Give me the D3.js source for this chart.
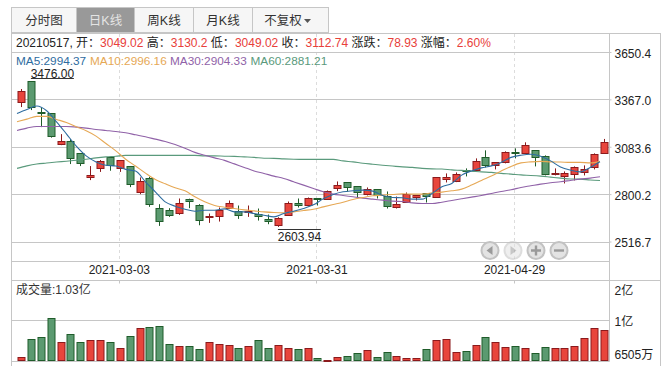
<!DOCTYPE html>
<html>
<head>
<meta charset="utf-8">
<script src="https://d3js.org/d3.v7.min.js"></script>
<style>
  html, body { margin: 0; padding: 0; background: #fff; }
  svg { display: block; font-family: "Liberation Sans", "Noto Sans CJK SC", sans-serif; }
</style>
</head>
<body>
<div id="chart"></div>
<script>
// K线数据
const opens = [3351,3476,3291,3285,3099,3115,3045,2908,2957,3020,2957,2966,2810,2894,2720,2708,2688,2770,2738,2665,2670,2718,2700,2690,2684,2654,2616,2678,2750,2732,2774,2768,2834,2870,2846,2798,2828,2788,2726,2756,2783,2804,2780,2888,2876,2944,2942,3020,2972,2990,3052,3044,3062,3026,2920,2906,2918,2930,2960,3049.02];
const highs = [3429,3476,3318,3285,3159,3129,3045,2968,3004,3022,3004,2968,2900,2904,2740,2716,2774,2773,2740,2684,2720,2762,2732,2732,2714,2678,2662,2756,2774,2780,2776,2822,2876,2872,2848,2840,2830,2816,2786,2810,2794,2806,2902,2924,2930,2954,3014,3062,2992,3056,3074,3110,3064,3032,2954,2936,2966,2972,3044,3130.2];
const lows = [3321,3303,3201,3138,3093,2980,2968,2884,2933,2940,2933,2842,2800,2724,2610,2664,2676,2716,2614,2628,2636,2712,2652,2664,2642,2620,2603.94,2677,2720,2731,2732,2767,2818,2816,2774,2792,2774,2714,2714,2755,2762,2750,2779,2870,2872,2906,2941,2960,2948,2984,3014,3043,2966,2912,2912,2864,2882,2912,2948,3049.02];
const closes = [3417,3321,3285,3147,3117,3011,2986,2917,2996,2972,3002,2856,2876,2736,2642,2676,2750,2761,2648,2671,2706,2750,2678,2698,2670,2640,2660,2750,2736,2774,2768,2816,2852,2840,2810,2828,2792,2726,2744,2803,2792,2786,2900,2900,2918,2938,2996,2972,2990,3050,3047,3092,3020,2918,2926,2924,2960,2948,3038,3112.74];
// 成交量（亿）
const volumes = [0.70,0.92,0.945,1.18,0.883,0.98,0.883,0.908,0.908,0.883,0.81,0.957,1.055,1.067,1.08,0.859,0.834,0.834,0.798,0.883,0.859,0.847,0.81,0.834,0.908,0.81,0.847,0.81,0.798,0.81,0.687,0.6546,0.70,0.712,0.749,0.785,0.70,0.761,0.712,0.687,0.687,0.798,0.908,0.92,0.761,0.773,0.847,0.945,0.883,0.822,0.834,0.81,0.749,0.822,0.81,0.81,0.834,0.933,1.055,1.03];
// 均线
const ma5 = [3283,3307,3327,3299,3233,3161,3087,3029,2993,2973,2968,2948,2938,2874,2814,2754,2728,2710,2698,2704,2704,2712,2694,2694,2684,2674,2664,2684,2698,2714,2736,2772,2798,2814,2820,2824,2818,2792,2780,2778,2770,2770,2804,2844,2864,2914,2939,2957,2969,2990,3020,3033,3039,3027,2999,2963,2944,2933,2960,2994.37];
const ma10 = [3233,3249,3265,3265,3247,3229,3203,3179,3147,3103,3059,3009,2968,2926,2888,2862,2838,2820,2784,2754,2732,2722,2714,2706,2700,2694,2690,2688,2694,2702,2710,2724,2738,2752,2768,2780,2790,2794,2798,2802,2800,2800,2808,2812,2820,2830,2854,2882,2908,2938,2966,2987,2993,2996,2993,2992,2990,2990,2987,2996.16];
const ma30 = [3181,3195,3205,3205,3205,3205,3201,3195,3187,3181,3175,3167,3155,3143,3129,3115,3097,3075,3050,3033,3017,3002,2981,2960,2939,2924,2908,2894,2874,2854,2834,2814,2800,2792,2784,2776,2770,2764,2758,2756,2748,2744,2744,2752,2762,2772,2782,2792,2804,2816,2826,2840,2850,2860,2868,2874,2882,2890,2896,2904.33];
const ma60 = [2954,2969,2980,2986,2992,2997,3003,3009,3017,3023,3027,3032,3032,3032,3032,3032,3032,3032,3032,3029,3029,3027,3026,3023,3020,3015,3014,3011,3009,3008,3008,3008,3008,2999,2993,2985,2979,2973,2968,2963,2960,2954,2951,2950,2945,2942,2938,2933,2930,2924,2920,2915,2912,2908,2902,2896,2891,2890,2885,2881.21];

// 坐标轴刻度
const priceTicks = [3650.4, 3367.0, 3083.6, 2800.2, 2516.7];
const volTicks = [1.6536, 1.1521, 0.6505];
const volTickLabels = ['2亿', '1亿', '6505万'];
const dateTicks = [10, 30, 50];
const dateLabels = ['2021-03-03', '2021-03-31', '2021-04-29'];
const tabNames = ['分时图', '日K线', '周K线', '月K线', '不复权'];
const infoLabels = ['开：', '高：', '低：', '收：', '涨跌：', '涨幅：'];
const infoValues = ['3049.02', '3130.2', '3049.02', '3112.74', '78.93', '2.60%'];
const maNames = ['MA5:2994.37', 'MA10:2996.16', 'MA30:2904.33', 'MA60:2881.21'];

const width = 667;
const height = 373;
const plot = { left: 11.5, right: 609.5, outer: 660.5, top: 33, info: 52, bottom: 261.5, volTop: 280.5, volBottom: 361.5 };
const gridColor = '#c6c6c6';
const red = '#e8453c', redDark = '#8c1a1c';
const green = '#5b9a70', greenDark = '#1f5c2a';
const maColors = ['#2e6c9f', '#e6a855', '#9062a8', '#5a9a7c'];

const svg = d3.select('#chart').append('svg')
  .attr('width', width)
  .attr('height', height)
  .attr('font-size', 12);

const days = d3.range(opens.length);

// 比例尺
const x = d3.scalePoint().domain(days).range([21, 604]);
const y = d3.scaleLinear().domain([2516.7, 3650.4]).range([241.5, 52]);
const yVol = d3.scaleLinear().domain([0.6505, 1.6536]).range([plot.volBottom, 280.5]);
const snap = v => Math.round(v) + 0.5;

// 顶部标签
const tabEdges = [11.5, 76.5, 134.5, 193.5, 252.5, 328.5];
const tabs = svg.append('g').attr('class', 'tabs');
tabs.selectAll('rect')
  .data(tabNames)
  .join('rect')
  .attr('x', (d, i) => tabEdges[i])
  .attr('y', 7.5)
  .attr('width', (d, i) => tabEdges[i + 1] - tabEdges[i])
  .attr('height', 25)
  .attr('fill', (d, i) => i === 1 ? '#999' : '#f6f6f6')
  .attr('stroke', gridColor);
tabs.selectAll('text')
  .data(tabNames)
  .join('text')
  .attr('x', (d, i) => i === 4 ? 283 : (tabEdges[i] + tabEdges[i + 1]) / 2)
  .attr('y', 25)
  .attr('text-anchor', 'middle')
  .attr('font-size', 12.5)
  .attr('fill', (d, i) => i === 1 ? '#e4e4e4' : '#333')
  .text(d => d);
tabs.append('path').attr('d', 'M304,19 h7 l-3.5,4 z').attr('fill', '#555');

// 外框
const frame = svg.append('g').attr('stroke', gridColor).attr('fill', 'none');
frame.append('path').attr('d', `M${plot.left},33 V366`);
frame.append('path').attr('d', `M${plot.right},33 V${plot.volBottom}`);
frame.append('path').attr('d', `M${plot.outer},33 V366`);
frame.append('path').attr('d', `M${plot.left},33.5 H${plot.outer}`);
frame.append('path').attr('d', `M${plot.left},${plot.bottom} H${plot.right}`);
frame.append('path').attr('d', `M${plot.left},${plot.volTop} H${plot.outer}`);

// 日期竖线
svg.append('g').selectAll('line')
  .data(dateTicks)
  .join('line')
  .attr('x1', d => snap(x(d)) - 1)
  .attr('x2', d => snap(x(d)) - 1)
  .attr('y1', 34)
  .attr('y2', plot.bottom)
  .attr('stroke', '#dcdcdc')
  .attr('stroke-dasharray', '3,3');

// 价格横线
svg.append('g').selectAll('line')
  .data(priceTicks)
  .join('line')
  .attr('x1', plot.left)
  .attr('x2', plot.right)
  .attr('y1', d => snap(y(d)))
  .attr('y2', d => snap(y(d)))
  .attr('stroke', gridColor);

// 成交量横线
svg.append('g').selectAll('line')
  .data(volTicks)
  .join('line')
  .attr('x1', plot.left)
  .attr('x2', plot.right)
  .attr('y1', d => snap(yVol(d)) - 1)
  .attr('y2', d => snap(yVol(d)) - 1)
  .attr('stroke', gridColor);

// 右侧价格轴
const yAxis = d3.axisRight(y).tickValues(priceTicks).tickFormat(d3.format('.1f')).tickSize(2).tickPadding(3);
const yAxisDraw = svg.append('g')
  .attr('transform', `translate(${plot.right},0)`)
  .call(yAxis);
yAxisDraw.select('.domain').remove();
yAxisDraw.selectAll('line').attr('stroke', gridColor);
yAxisDraw.selectAll('text')
  .attr('font-size', 12)
  .attr('font-family', '"Liberation Sans", sans-serif')
  .attr('fill', '#222')
  .attr('dy', '0.45em');

// 右侧成交量轴
const volAxis = d3.axisRight(yVol).tickValues(volTicks).tickFormat((d, i) => volTickLabels[i]).tickSize(0).tickPadding(5);
const volLabelShift = [10, 1, -7];
const volAxisDraw = svg.append('g')
  .attr('transform', `translate(${plot.right},0)`)
  .call(volAxis);
volAxisDraw.select('.domain').remove();
volAxisDraw.selectAll('text')
  .attr('font-size', 12)
  .attr('font-family', '"Liberation Sans", "Noto Sans CJK SC", sans-serif')
  .attr('fill', '#222')
  .attr('dy', (d, i) => volLabelShift[i] + 4);

// 日期轴
const xAxis = d3.axisBottom(x).tickValues(dateTicks).tickFormat((d, i) => dateLabels[i]).tickSize(0).tickPadding(4);
const xAxisDraw = svg.append('g')
  .attr('transform', `translate(-1,${plot.bottom})`)
  .call(xAxis);
xAxisDraw.select('.domain').remove();
xAxisDraw.selectAll('text')
  .attr('font-size', 12)
  .attr('font-family', '"Liberation Sans", sans-serif')
  .attr('fill', '#222');
svg.append('g').selectAll('line')
  .data(dateTicks)
  .join('line')
  .attr('x1', d => snap(x(d)) - 1)
  .attr('x2', d => snap(x(d)) - 1)
  .attr('y1', plot.volTop)
  .attr('y2', plot.volTop + 3)
  .attr('stroke', gridColor);

// 信息栏
const info = svg.append('text').attr('x', 16).attr('y', 47).attr('fill', '#222');
info.append('tspan').text('20210517, ');
infoLabels.forEach((label, i) => {
  info.append('tspan').text(label);
  info.append('tspan').attr('fill', '#e8403a').text(infoValues[i] + ' ');
});

// 均线数值
const maX = [16, 90, 170, 250.5];
svg.append('g').selectAll('text')
  .data(maNames)
  .join('text')
  .attr('x', (d, i) => maX[i])
  .attr('y', 64.5)
  .attr('fill', (d, i) => maColors[i])
  .attr('font-size', 11.8)
  .text(d => d);

// K线
const candles = svg.append('g').attr('class', 'candles');
const isUp = i => closes[i] >= opens[i];
candles.selectAll('line')
  .data(days)
  .join('line')
  .attr('x1', i => snap(x(i)))
  .attr('x2', i => snap(x(i)))
  .attr('y1', i => y(highs[i]))
  .attr('y2', i => y(lows[i]))
  .attr('stroke', i => isUp(i) ? redDark : greenDark);
candles.selectAll('rect')
  .data(days)
  .join('rect')
  .attr('x', i => snap(x(i)) - 3.5)
  .attr('y', i => snap(y(Math.max(opens[i], closes[i]))))
  .attr('width', 7)
  .attr('height', i => Math.round(Math.abs(y(opens[i]) - y(closes[i]))))
  .attr('fill', i => isUp(i) ? red : green)
  .attr('stroke', i => isUp(i) ? redDark : greenDark);

// 均线
const lineGen = values => d3.line()
  .x((d, i) => x(i) - 4)
  .y(d => y(d))
  .curve(d3.curveMonotoneX)(values);
svg.append('g').attr('fill', 'none').attr('stroke-width', 1.1)
  .selectAll('path')
  .data([ma60, ma30, ma10, ma5])
  .join('path')
  .attr('d', d => lineGen(d))
  .attr('stroke', (d, i) => maColors[3 - i]);

// 最高最低标注
function markPrice(i, price, dx, lineY, textY) {
  svg.append('line')
    .attr('x1', x(i) + dx[0]).attr('x2', x(i) + dx[1])
    .attr('y1', lineY).attr('y2', lineY)
    .attr('stroke', '#333');
  svg.append('text')
    .attr('x', x(i) + (dx[0] + dx[1]) / 2)
    .attr('y', textY)
    .attr('text-anchor', 'middle')
    .attr('fill', '#222')
    .text(price);
}
markPrice(1, '3476.00', [0, 43], snap(y(highs[1]) - 3.5), y(highs[1]) - 3.5);
markPrice(26, '2603.94', [0, 43], snap(y(lows[26]) + 2), y(lows[26]) + 14.5);

// 缩放按钮
const btnX = [490, 513, 536, 559];
const buttons = svg.append('g').selectAll('g')
  .data(btnX)
  .join('g')
  .attr('transform', d => `translate(${d},250.5)`)
  .attr('opacity', (d, i) => i === 1 ? 0.55 : 1);
buttons.append('circle').attr('r', 8.5).attr('fill', '#e3e3e3').attr('stroke', '#c2c2c2').attr('stroke-width', 2);
const btnIcons = ['M2.5,-4.5 V4.5 L-3.5,0 Z', 'M-2.5,-4.5 V4.5 L3.5,0 Z', 'M-5,-1.2 H-1.2 V-5 H1.2 V-1.2 H5 V1.2 H1.2 V5 H-1.2 V1.2 H-5 Z', 'M-5,-1.2 H5 V1.2 H-5 Z'];
buttons.append('path').attr('d', (d, i) => btnIcons[i]).attr('fill', '#9a9a9a');

// 成交量
svg.append('text').attr('x', 16).attr('y', 294).attr('fill', '#333').text('成交量:1.03亿');
svg.append('g').attr('class', 'volume').selectAll('rect')
  .data(days)
  .join('rect')
  .attr('x', i => snap(x(i)) - 3.5)
  .attr('y', i => snap(yVol(volumes[i])) - 1)
  .attr('width', 7)
  .attr('height', i => Math.max(1, plot.volBottom - snap(yVol(volumes[i])) ))
  .attr('fill', i => isUp(i) ? red : green)
  .attr('stroke', i => isUp(i) ? redDark : greenDark);
</script>
</body>
</html>
